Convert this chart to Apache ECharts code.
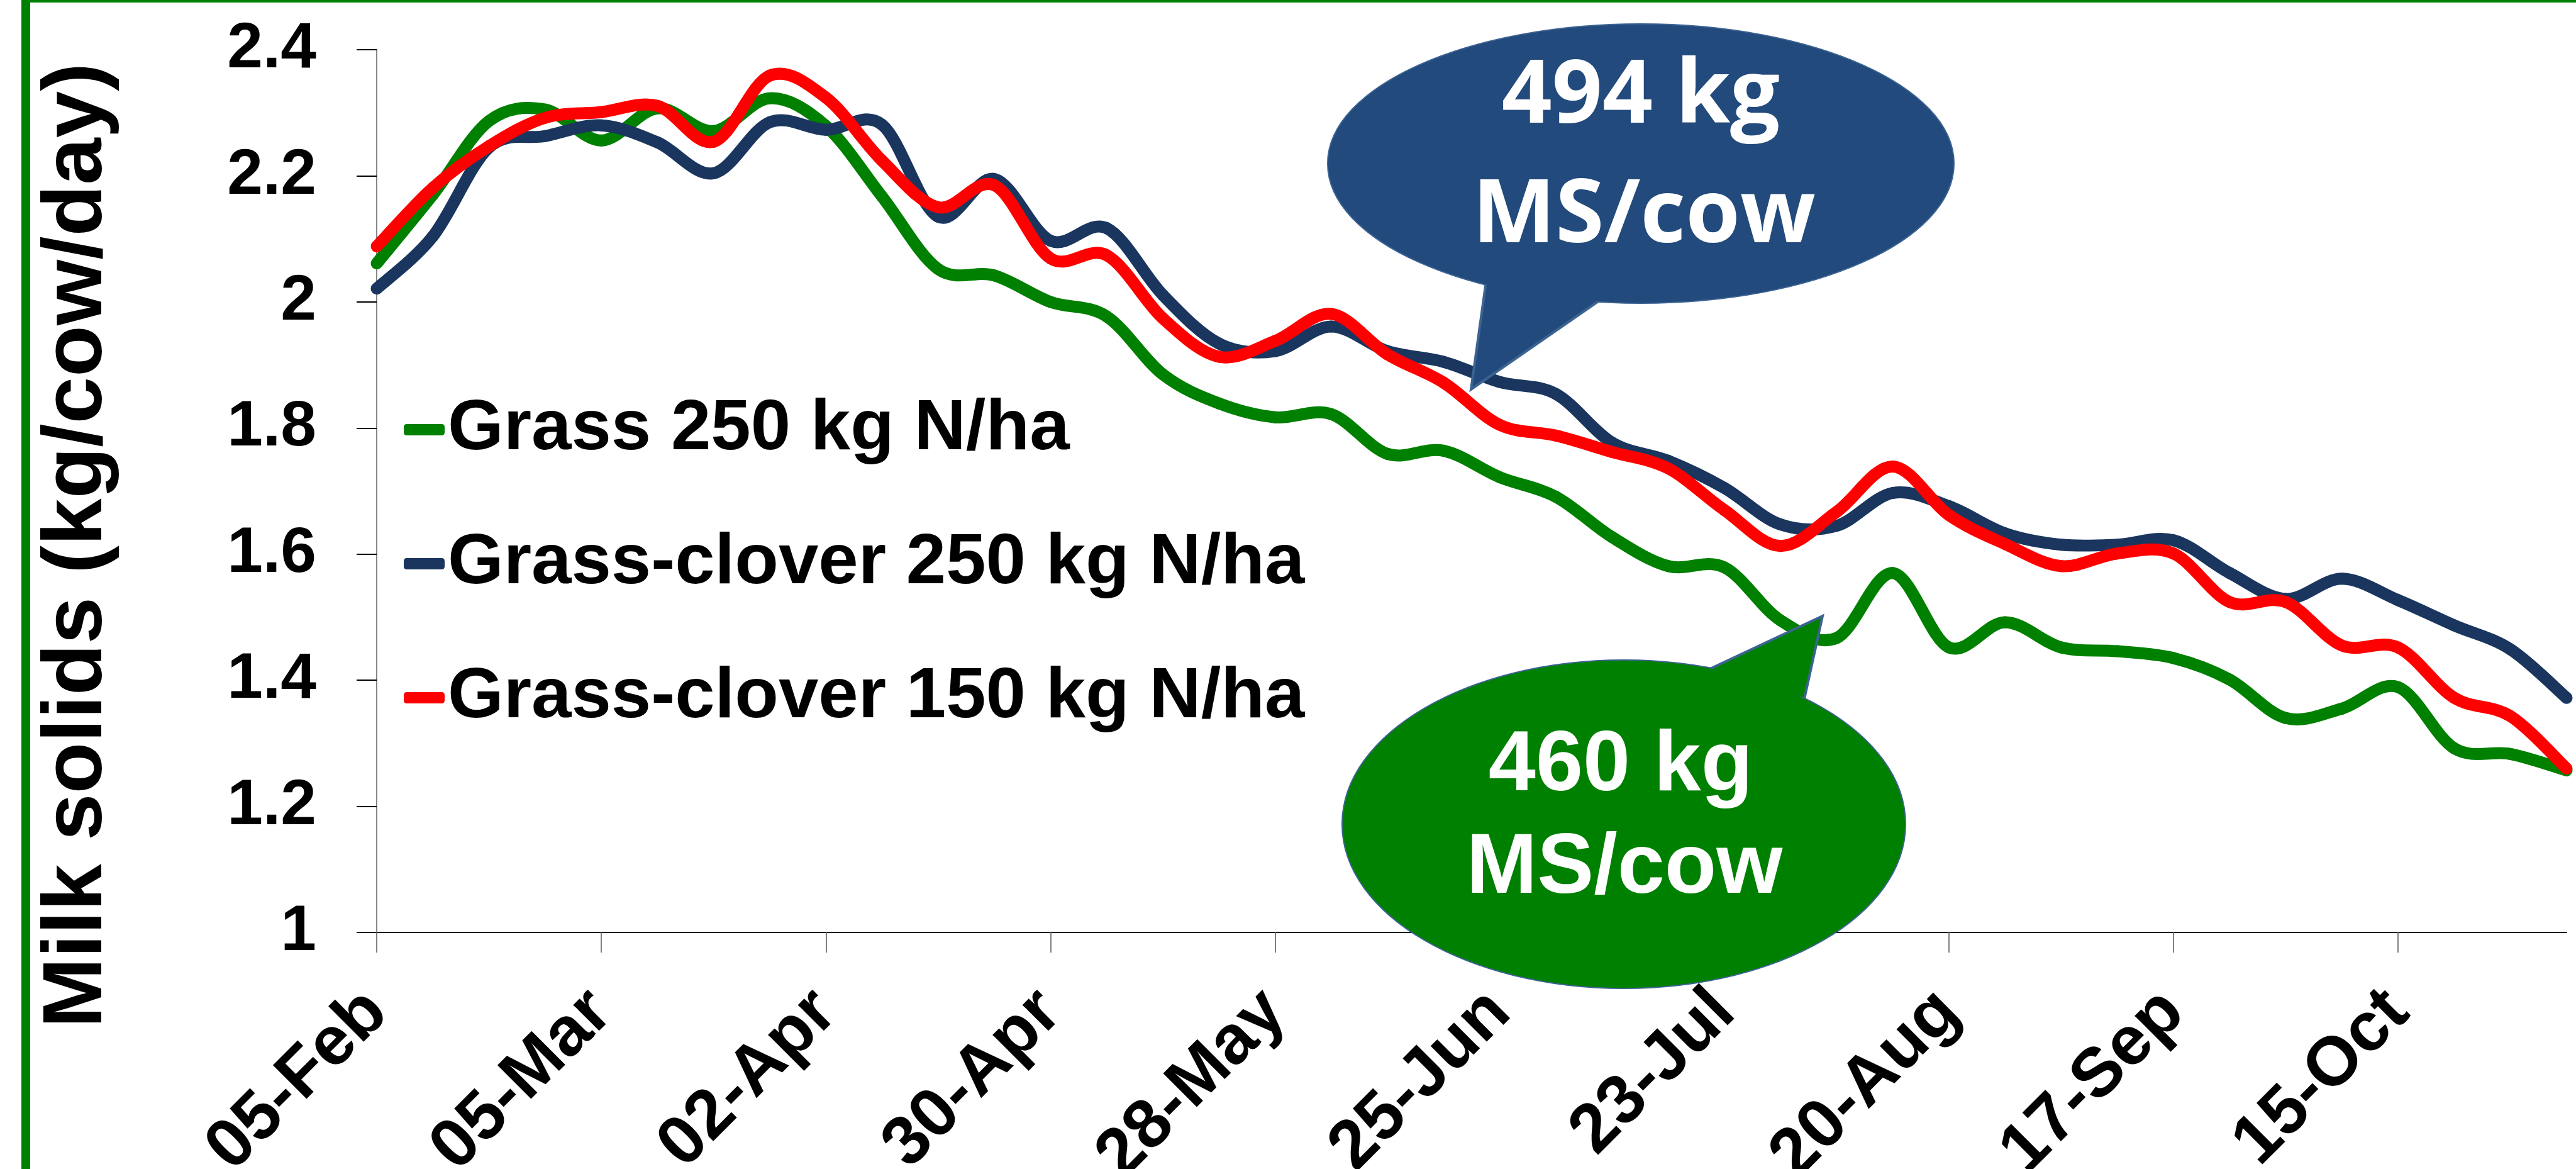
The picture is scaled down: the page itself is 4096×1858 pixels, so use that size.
<!DOCTYPE html>
<html>
<head>
<meta charset="utf-8">
<title>Milk solids per cow</title>
<script src="https://cdn.jsdelivr.net/npm/echarts@6/dist/echarts.min.js"></script>
<style>
  html, body { margin: 0; padding: 0; background: #ffffff; }
  #milkChart { width: 4096px; height: 1858px; }
</style>
</head>
<body>
<div id="milkChart"></div>
<script>
// weekly dates (axis categories)
var weeks = [
  "05-Feb", "12-Feb", "19-Feb", "26-Feb", "05-Mar", "12-Mar", "19-Mar", "26-Mar",
  "02-Apr", "09-Apr", "16-Apr", "23-Apr", "30-Apr", "07-May", "14-May", "21-May",
  "28-May", "04-Jun", "11-Jun", "18-Jun", "25-Jun", "02-Jul", "09-Jul", "16-Jul",
  "23-Jul", "30-Jul", "06-Aug", "13-Aug", "20-Aug", "27-Aug", "03-Sep", "10-Sep",
  "17-Sep", "24-Sep", "01-Oct", "08-Oct", "15-Oct", "22-Oct", "29-Oct", "05-Nov"
];

// milk solids, kg/cow/day
var grass250 = [
  2.061, 2.170, 2.287, 2.305, 2.256, 2.307, 2.271, 2.323, 2.279, 2.167,
  2.052, 2.042, 2.000, 1.977, 1.885, 1.839, 1.817, 1.822, 1.759, 1.764,
  1.722, 1.691, 1.627, 1.581, 1.579, 1.495, 1.467, 1.570, 1.452, 1.492,
  1.452, 1.446, 1.435, 1.401, 1.340, 1.355, 1.389, 1.292, 1.283, 1.257
];
var clover250 = [
  2.021, 2.104, 2.245, 2.263, 2.280, 2.253, 2.204, 2.285, 2.273, 2.281,
  2.135, 2.195, 2.097, 2.117, 2.011, 1.934, 1.922, 1.961, 1.922, 1.905,
  1.873, 1.854, 1.777, 1.748, 1.705, 1.647, 1.645, 1.697, 1.676, 1.633,
  1.615, 1.615, 1.622, 1.570, 1.529, 1.561, 1.527, 1.487, 1.449, 1.372
];
var clover150 = [
  2.088, 2.181, 2.247, 2.292, 2.301, 2.311, 2.254, 2.359, 2.324, 2.224,
  2.150, 2.185, 2.069, 2.074, 1.974, 1.913, 1.938, 1.981, 1.917, 1.872,
  1.805, 1.788, 1.762, 1.736, 1.670, 1.613, 1.667, 1.739, 1.662, 1.616,
  1.581, 1.601, 1.601, 1.524, 1.524, 1.455, 1.452, 1.372, 1.343, 1.260
];

var seriesNames = ["Grass 250 kg N/ha", "Grass-clover 250 kg N/ha", "Grass-clover 150 kg N/ha"];
var seriesColors = ["#008000", "#1A365E", "#FF0000"];
var seriesData = [grass250, clover250, clover150];

var yMin = 1;
var yMax = 2.4;
var yStep = 0.2;

var fontMain = "'Liberation Sans', Arial, sans-serif";

var chart = echarts.init(document.getElementById("milkChart"));

// Excel style smoothed line: one bezier per segment, control points from neighbours
function smoothSegment(values, color) {
  return function (params, api) {
    var i = params.dataIndex;
    var n = values.length;
    if (i >= n - 1) return null;
    var ia = Math.max(i - 1, 0);
    var id = Math.min(i + 2, n - 1);
    var a = api.coord([ia, values[ia]]);
    var b = api.coord([i, values[i]]);
    var c = api.coord([i + 1, values[i + 1]]);
    var d = api.coord([id, values[id]]);
    return {
      type: "bezierCurve",
      shape: {
        x1: b[0], y1: b[1], x2: c[0], y2: c[1],
        cpx1: b[0] + (c[0] - a[0]) / 6, cpy1: b[1] + (c[1] - a[1]) / 6,
        cpx2: c[0] - (d[0] - b[0]) / 6, cpy2: c[1] - (d[1] - b[1]) / 6
      },
      style: { fill: null, stroke: color, lineWidth: 19, lineCap: "round", lineJoin: "round" }
    };
  };
}

var series = [];
for (var i = 0; i < seriesData.length; i++) {
  var pairs = [];
  for (var j = 0; j < seriesData[i].length; j++) {
    pairs.push([j, seriesData[i][j]]);
  }
  series.push({
    name: seriesNames[i],
    type: "custom",
    data: pairs,
    encode: { x: 0, y: 1 },
    itemStyle: { color: seriesColors[i] },
    renderItem: smoothSegment(seriesData[i], seriesColors[i])
  });
}

// speech bubble: ellipse + pointer, drawn so the outline is merged
function bubble(cx, cy, rx, ry, pts, fill, stroke) {
  return [
    { type: "ellipse", z: 100, shape: { cx: cx, cy: cy, rx: rx, ry: ry },
      style: { fill: fill, stroke: stroke, lineWidth: 4 } },
    { type: "polygon", z: 101, shape: { points: pts },
      style: { fill: fill, stroke: stroke, lineWidth: 4, lineJoin: "miter" } },
    { type: "ellipse", z: 102, shape: { cx: cx, cy: cy, rx: rx, ry: ry },
      style: { fill: fill } }
  ];
}

function label(text, x, y, size, family) {
  return {
    type: "text", z: 110, x: x, y: y,
    style: {
      text: text, x: 0, y: 0, fill: "#ffffff",
      fontSize: size, fontWeight: "bold", fontFamily: family,
      align: "center", verticalAlign: "middle",
      textAlign: "center", textVerticalAlign: "middle"
    }
  };
}

var graphics = [
  // green frame, mostly outside the window
  { type: "rect", z: 0, shape: { x: 41, y: -3, width: 4300, height: 2100 },
    style: { fill: null, stroke: "#008000", lineWidth: 14 } },
  // y axis title
  { type: "text", z: 50, x: 124, y: 867, rotation: Math.PI / 2,
    style: {
      text: "Milk solids (kg/cow/day)", x: 0, y: 0, fill: "#000000",
      fontSize: 134, fontWeight: "bold", fontFamily: fontMain,
      align: "center", verticalAlign: "middle",
      textAlign: "center", textVerticalAlign: "middle"
    } }
];

graphics = graphics.concat(
  bubble(2609, 260, 497, 221, [[2363, 447], [2339, 619], [2543, 478]], "#224A7C", "#3D6392"),
  bubble(2582, 1310, 447, 260, [[2719, 1063], [2898, 979], [2869, 1111]], "#008000", "#3D6392")
);
graphics.push(label("494 kg", 2609, 155, 140, "'Open Sans', sans-serif"));
graphics.push(label("MS/cow", 2614, 345, 140, "'Open Sans', sans-serif"));
graphics.push(label("460 kg", 2577, 1219, 135, fontMain));
graphics.push(label("MS/cow", 2583, 1382, 135, fontMain));

var option = {
  animation: false,
  backgroundColor: "#ffffff",
  grid: {
    left: 599,
    right: 15,
    top: 79,
    bottom: 376,
    containLabel: false,
    outerBoundsMode: "none"
  },
  legend: {
    orient: "vertical",
    left: 637,
    top: 613,
    icon: "roundRect",
    itemWidth: 65,
    itemHeight: 18,
    itemGap: 83,
    data: seriesNames,
    textStyle: {
      color: "#000000",
      fontFamily: fontMain,
      fontWeight: "bold",
      fontSize: 114,
      lineHeight: 130
    }
  },
  xAxis: {
    type: "category",
    data: weeks,
    boundaryGap: false,
    axisLine: { lineStyle: { color: "#000000", width: 2 } },
    axisTick: { interval: 3, length: 32, lineStyle: { color: "#808080", width: 2 } },
    axisLabel: {
      interval: 3,
      rotate: 45,
      margin: 110,
      color: "#000000",
      fontFamily: fontMain,
      fontWeight: "bold",
      fontSize: 110
    },
    splitLine: { show: false }
  },
  yAxis: {
    type: "value",
    min: yMin,
    max: yMax,
    interval: yStep,
    axisLine: { show: true, lineStyle: { color: "#868686", width: 2 } },
    axisTick: { show: true, length: 32, lineStyle: { color: "#000000", width: 2 } },
    axisLabel: {
      margin: 96,
      color: "#000000",
      fontFamily: fontMain,
      fontWeight: "bold",
      fontSize: 102
    },
    splitLine: { show: false }
  },
  graphic: graphics,
  series: series
};

chart.setOption(option);
</script>
</body>
</html>
